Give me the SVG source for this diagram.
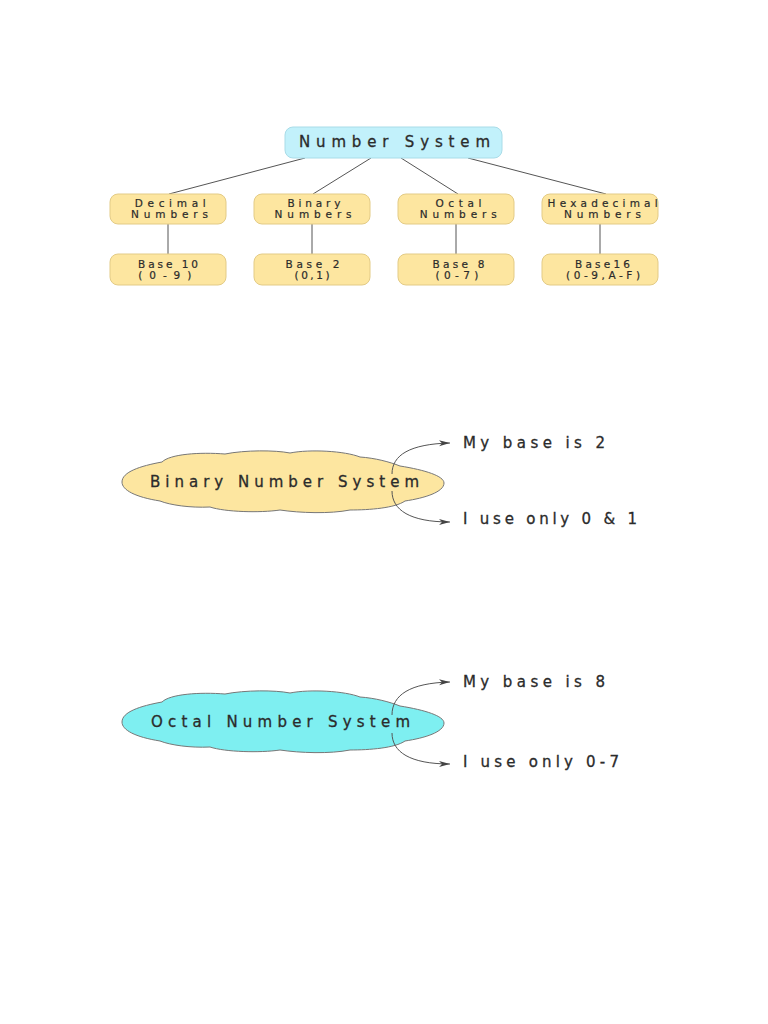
<svg xmlns="http://www.w3.org/2000/svg" width="768" height="1024" viewBox="0 0 768 1024">
<defs>
<style>
.t{font-family:"DejaVu Sans","Liberation Sans",sans-serif;fill:#2b2b2b;stroke:#2b2b2b;}
.big{font-size:15px;stroke-width:0.3;}
.sm{font-size:10.5px;stroke-width:0.2;}
.box{fill:#fde6a0;stroke:#e3cb86;stroke-width:1;}
.top{fill:#c2f1fb;stroke:#a9dce8;stroke-width:1;}
.ln{stroke:#555;stroke-width:1;fill:none;}
.arr{stroke:#555;stroke-width:1;fill:none;marker-end:url(#ah);}
.cl{stroke:#777;stroke-width:1;}
</style>
<marker id="ah" markerWidth="12" markerHeight="8" refX="11" refY="4" orient="auto" markerUnits="userSpaceOnUse">
<path d="M0,1 L11,4 L0,7 L3,4 Z" fill="#444"/>
</marker>
<path id="cloud" d="M122,482 C122,472 140,466 162,462 C170,454 200,452 225,454 C245,450 275,450 290,453 C310,449 345,451 360,457 C375,458 390,462 400,466 C425,470 444,476 444,483 C444,492 425,498 405,501 C395,508 370,510 350,510 C330,514 300,513 280,510 C260,513 225,512 210,507 C190,508 170,505 160,501 C135,497 122,490 122,482 Z"/>
</defs>
<rect width="768" height="1024" fill="#ffffff"/>

<g id="connectors">
<line class="ln" x1="305" y1="158" x2="169" y2="194"/>
<line class="ln" x1="371" y1="158" x2="313" y2="194"/>
<line class="ln" x1="401" y1="158" x2="458" y2="194"/>
<line class="ln" x1="468" y1="158" x2="606" y2="194"/>
<line class="ln" x1="168" y1="224" x2="168" y2="254"/>
<line class="ln" x1="312" y1="224" x2="312" y2="254"/>
<line class="ln" x1="456" y1="224" x2="456" y2="254"/>
<line class="ln" x1="600" y1="224" x2="600" y2="254"/>
</g>

<g id="number-system">
<rect class="top" x="285" y="127" width="217" height="31" rx="8"/>
<text class="t big" x="299" y="147" textLength="191" lengthAdjust="spacing">Number System</text>
</g>

<g id="decimal">
<rect class="box" x="110" y="194" width="116" height="30" rx="8"/>
<text class="t sm" x="134.7" y="206.5" textLength="71" lengthAdjust="spacing">Decimal</text>
<text class="t sm" x="131" y="218" textLength="77" lengthAdjust="spacing">Numbers</text>
</g>
<g id="binary">
<rect class="box" x="254" y="194" width="116" height="30" rx="8"/>
<text class="t sm" x="287.4" y="206.5" textLength="53" lengthAdjust="spacing">Binary</text>
<text class="t sm" x="274.6" y="218" textLength="77" lengthAdjust="spacing">Numbers</text>
</g>
<g id="octal">
<rect class="box" x="398" y="194" width="116" height="30" rx="8"/>
<text class="t sm" x="435.4" y="206.5" textLength="46" lengthAdjust="spacing">Octal</text>
<text class="t sm" x="419.7" y="218" textLength="77" lengthAdjust="spacing">Numbers</text>
</g>
<g id="hexadecimal">
<rect class="box" x="542" y="194" width="116" height="30" rx="8"/>
<text class="t sm" x="547.6" y="206.5" textLength="110" lengthAdjust="spacing">Hexadecimal</text>
<text class="t sm" x="564" y="218" textLength="77" lengthAdjust="spacing">Numbers</text>
</g>

<g id="base10">
<rect class="box" x="110" y="254" width="116" height="31" rx="8"/>
<text class="t sm" x="138" y="267.5" textLength="60" lengthAdjust="spacing">Base 10</text>
<text class="t sm" x="138.3" y="279" textLength="53" lengthAdjust="spacing">(0-9)</text>
</g>
<g id="base2">
<rect class="box" x="254" y="254" width="116" height="31" rx="8"/>
<text class="t sm" x="285.5" y="267.5" textLength="54" lengthAdjust="spacing">Base 2</text>
<text class="t sm" x="294.5" y="279" textLength="35" lengthAdjust="spacing">(0,1)</text>
</g>
<g id="base8">
<rect class="box" x="398" y="254" width="116" height="31" rx="8"/>
<text class="t sm" x="432.5" y="267.5" textLength="52" lengthAdjust="spacing">Base 8</text>
<text class="t sm" x="435.4" y="279" textLength="43" lengthAdjust="spacing">(0-7)</text>
</g>
<g id="base16">
<rect class="box" x="542" y="254" width="116" height="31" rx="8"/>
<text class="t sm" x="575" y="267.5" textLength="55" lengthAdjust="spacing">Base16</text>
<text class="t sm" x="566" y="279" textLength="74" lengthAdjust="spacing">(0-9,A-F)</text>
</g>

<g id="binary-cloud">
<use href="#cloud" class="cl" fill="#fde6a0"/>
<text class="t big" x="150" y="487" textLength="269" lengthAdjust="spacing">Binary Number System</text>
</g>
<g id="binary-labels">
<text class="t big" x="463" y="448" textLength="142" lengthAdjust="spacing">My base is 2</text>
<text class="t big" x="463" y="524" textLength="174" lengthAdjust="spacing">I use only 0 &amp; 1</text>
</g>

<g id="octal-cloud">
<use href="#cloud" class="cl" fill="#7eeff1" transform="translate(0,240)"/>
<text class="t big" x="151" y="727" textLength="259" lengthAdjust="spacing">Octal Number System</text>
</g>
<g id="octal-labels">
<text class="t big" x="463" y="687" textLength="142" lengthAdjust="spacing">My base is 8</text>
<text class="t big" x="463" y="767" textLength="156" lengthAdjust="spacing">I use only 0-7</text>
</g>

<g id="arrows">
<path class="arr" d="M392,474 C392,455 410,444 450,443"/>
<path class="arr" d="M392,491 C392,510 410,522 450,522"/>
<path class="arr" d="M392,715 C392,695 410,683 450,682"/>
<path class="arr" d="M392,733 C392,752 410,764 450,764"/>
</g>
</svg>
